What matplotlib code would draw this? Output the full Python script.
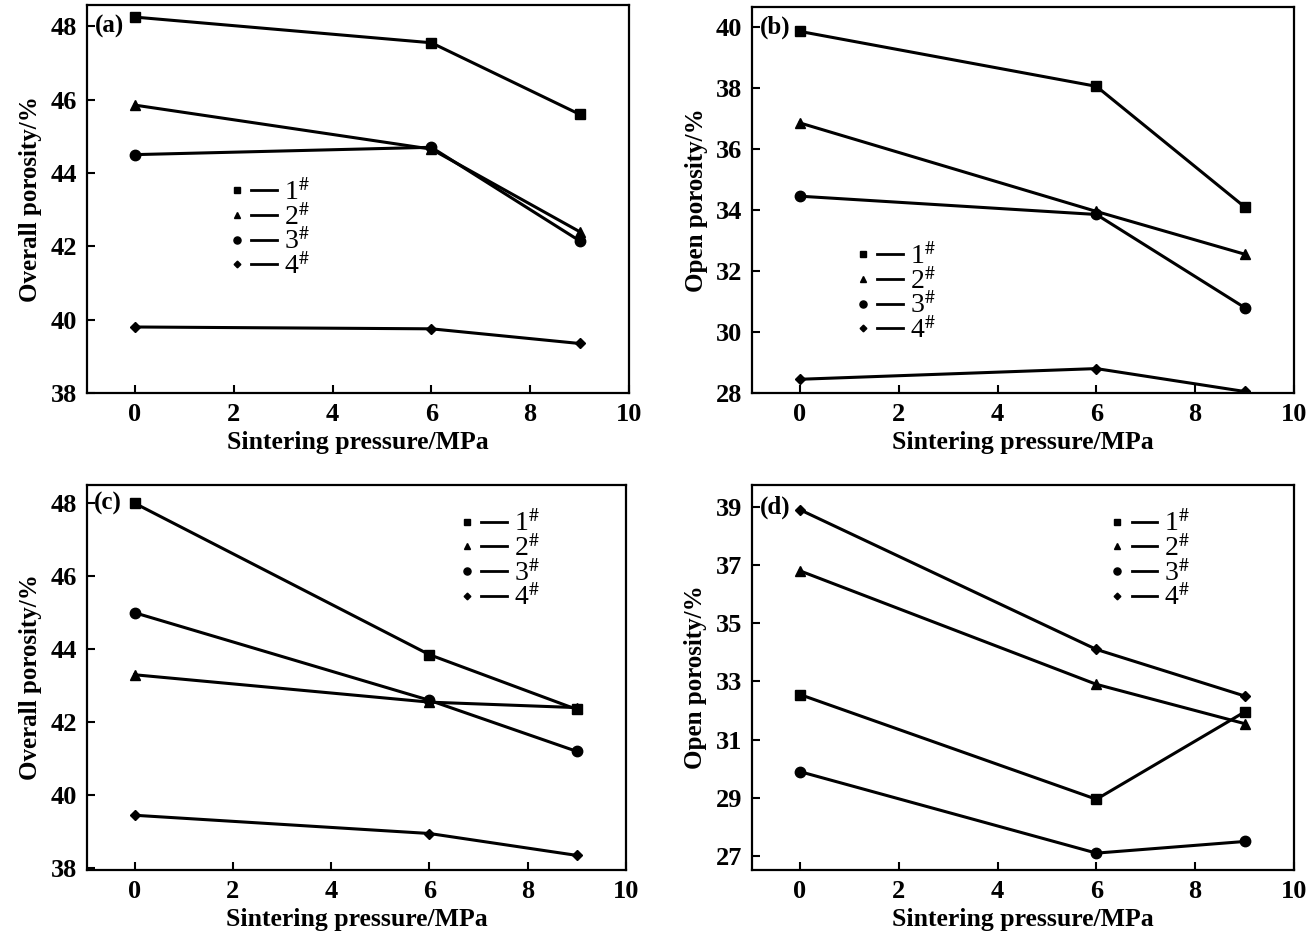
import matplotlib
matplotlib.use("Agg")
import matplotlib.pyplot as plt
from matplotlib.lines import Line2D
from matplotlib.legend_handler import HandlerTuple

plt.rcParams['font.family'] = ['Liberation Serif', 'DejaVu Serif']
plt.rcParams['mathtext.fontset'] = 'stix'

pressure = [0, 6, 9]
series_labels = ['1$^{\\#}$', '2$^{\\#}$', '3$^{\\#}$', '4$^{\\#}$']
markers = ['s', '^', 'o', 'D']
marker_sizes = [7, 7, 7.5, 5]

# (a) overall porosity
a_vals = [[48.25, 47.55, 45.6],
          [45.85, 44.65, 42.4],
          [44.5, 44.7, 42.15],
          [39.8, 39.75, 39.35]]
# (b) open porosity
b_vals = [[39.85, 38.05, 34.1],
          [36.85, 33.95, 32.55],
          [34.45, 33.85, 30.8],
          [28.45, 28.8, 28.05]]
# (c) overall porosity
c_vals = [[48.0, 43.85, 42.35],
          [43.3, 42.55, 42.4],
          [45.0, 42.6, 41.2],
          [39.45, 38.95, 38.35]]
# (d) open porosity
d_vals = [[32.55, 28.95, 31.95],
          [36.8, 32.9, 31.55],
          [29.9, 27.1, 27.5],
          [38.9, 34.1, 32.5]]

xticks = [0, 2, 4, 6, 8, 10]
a_yticks = [38, 40, 42, 44, 46, 48]
b_yticks = [28, 30, 32, 34, 36, 38, 40]
c_yticks = [38, 40, 42, 44, 46, 48]
d_yticks = [27, 29, 31, 33, 35, 37, 39]

W, H = 1308, 939
fig = plt.figure(figsize=(W / 100, H / 100), dpi=100)


def px_axes(l, r, t, b):
    return fig.add_axes([l / W, 1 - b / H, (r - l) / W, (b - t) / H])


panels = [
    dict(box=(87, 629, 5, 393), vals=a_vals, yticks=a_yticks, ylim=(38, 48.58),
         ylabel='Overall porosity/%', tag='(a)', leg=(0.232, 0.58)),
    dict(box=(752, 1294, 7, 393), vals=b_vals, yticks=b_yticks, ylim=(28, 40.65),
         ylabel='Open porosity/%', tag='(b)', leg=(0.16, 0.417)),
    dict(box=(87, 626, 485, 870), vals=c_vals, yticks=c_yticks, ylim=(37.95, 48.5),
         ylabel='Overall porosity/%', tag='(c)', leg=(0.66, 0.963)),
    dict(box=(752, 1294, 485, 870), vals=d_vals, yticks=d_yticks, ylim=(26.52, 39.75),
         ylabel='Open porosity/%', tag='(d)', leg=(0.63, 0.963)),
]

for p in panels:
    ax = px_axes(*p['box'])
    handles = []
    for vals, lab, m, ms in zip(p['vals'], series_labels, markers, marker_sizes):
        ax.plot(pressure, vals, color='black', lw=2.2, marker=m, ms=ms,
                markerfacecolor='black', markeredgecolor='black')
        hm = Line2D([], [], color='black', marker=m, ms=ms * 0.68, linestyle='none')
        hl = Line2D([], [], color='black', lw=2.0)
        handles.append((hm, hl))
    ax.set_xlim(-0.97, 9.97)
    ax.set_ylim(*p['ylim'])
    ax.set_xticks(xticks)
    ax.set_yticks(p['yticks'])
    ax.tick_params(direction='in', length=6, width=1.5, labelsize=19, pad=7,
                   top=False, right=False)
    for lbl in ax.get_xticklabels() + ax.get_yticklabels():
        lbl.set_fontweight('bold')
    for s in ax.spines.values():
        s.set_linewidth(1.6)
    ax.set_xlabel('Sintering pressure/MPa', fontsize=18.5, fontweight='bold', labelpad=4)
    ax.set_ylabel(p['ylabel'], fontsize=18, fontweight='bold', labelpad=6)
    ax.text(-0.82, p['yticks'][-1], p['tag'], fontsize=18, fontweight='bold',
            ha='left', va='center')
    ax.legend(handles, series_labels,
              handler_map={tuple: HandlerTuple(ndivide=None, pad=0.05)},
              loc='upper left', bbox_to_anchor=p['leg'], frameon=False,
              fontsize=20, handlelength=1.9, handletextpad=0.25,
              labelspacing=-0.08, borderaxespad=0)

fig.savefig('out.png', dpi=100)
